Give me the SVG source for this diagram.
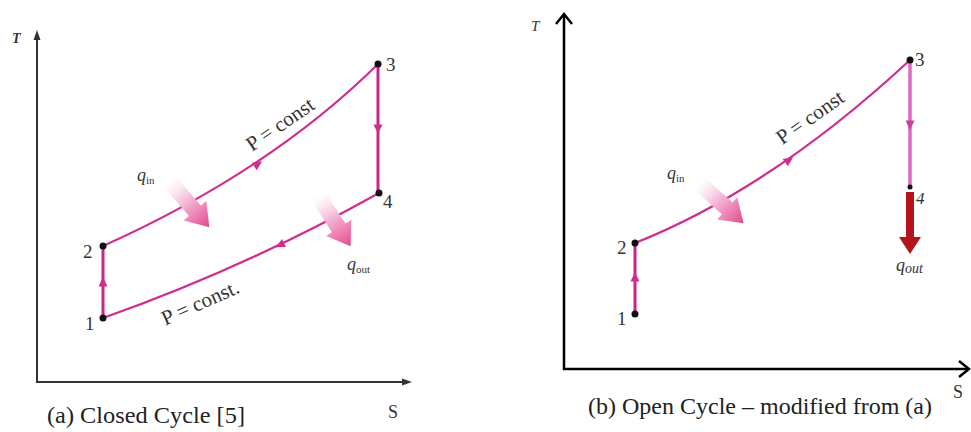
<svg xmlns="http://www.w3.org/2000/svg" width="971" height="432" viewBox="0 0 971 432">
  <defs>
    <style>
      .lbl { font-family: "Liberation Serif", "Times New Roman", serif; fill: #333; }
      .num { font-size: 19px; }
      .cap { font-size: 23px; fill: #222; }
      .pc { font-size: 21px; fill: #333; }
      .proc { fill: none; stroke: #d02e8e; stroke-width: 2.2; }
      .vert { fill: none; stroke: #c9268a; stroke-width: 3; }
      .pt { fill: #111; }
      .ah { fill: #d02e8e; }
    </style>
    <linearGradient id="heatGrad" x1="0" y1="0" x2="1" y2="0">
      <stop offset="0" stop-color="#ffffff" stop-opacity="0.6"/>
      <stop offset="0.45" stop-color="#f4b3d2"/>
      <stop offset="1" stop-color="#e4488f"/>
    </linearGradient>
    <path id="heat" d="M0,-8 L38,-8 L38,-15 L60,0 L38,15 L38,8 L0,8 Z" fill="url(#heatGrad)"/>
    <path id="tri" d="M5,0 L-4.5,-4.5 L-4.5,4.5 Z"/>
  </defs>

  <!-- Panel (a) axes -->
  <g id="axes-a" stroke="#333" stroke-width="2" fill="none">
    <line x1="37" y1="382" x2="37" y2="38"/>
    <line x1="36" y1="382" x2="404" y2="382"/>
    <polygon points="37,30 33.5,40 40.5,40" fill="#333" stroke="none"/>
    <polygon points="412,382 402,378.5 402,385.5" fill="#333" stroke="none"/>
  </g>
  <text class="lbl" x="12" y="43" font-size="14" font-style="italic" font-weight="bold" fill="#555">T</text>
  <text class="lbl" x="388" y="418" font-size="18">S</text>

  <!-- Panel (b) axes -->
  <g id="axes-b" stroke="#000" stroke-width="2.5" fill="none">
    <line x1="564" y1="370" x2="564" y2="15"/>
    <line x1="563" y1="369" x2="968" y2="369"/>
    <polyline points="556,24 564,14 572,24"/>
    <polyline points="959,361 969,369 959,377"/>
  </g>
  <text class="lbl" x="531" y="31" font-size="15" font-style="italic">T</text>
  <text class="lbl" x="953" y="398" font-size="18">S</text>

  <!-- Connectors (processes) -->
  <g id="connectors">
    <!-- (a) -->
    <path class="vert" d="M103,318 L103,246"/>
    <path class="proc" d="M103,246 Q270,171 378,64"/>
    <path class="vert" d="M378,64 L378,193"/>
    <path class="proc" d="M379,193 Q245,268 103,318"/>
    <use href="#tri" class="ah" transform="translate(103,282) rotate(-90)"/>
    <use href="#tri" class="ah" transform="translate(258,164) rotate(-33.5)"/>
    <use href="#tri" class="ah" transform="translate(378,129) rotate(90)"/>
    <use href="#tri" class="ah" transform="translate(280,245) rotate(154.4)"/>
    <!-- (b) -->
    <path class="vert" d="M635,314 L635,243"/>
    <path class="proc" d="M635,243 Q771,189 910,60"/>
    <path fill="none" stroke="#e067c4" stroke-width="3.5" d="M910,60 L910,187"/>
    <use href="#tri" class="ah" transform="translate(635,277) rotate(-90)"/>
    <use href="#tri" class="ah" transform="translate(789,160) rotate(-35)"/>
    <use href="#tri" fill="#d43aa6" transform="translate(910,125) rotate(90)"/>
    <!-- q_out red arrow (b) -->
    <path d="M906,192 L914,192 L914,237 L921,237 L910,254 L899,237 L906,237 Z" fill="#b3141b"/>
  </g>

  <!-- Heat arrows -->
  <g id="heat-arrows">
    <use href="#heat" transform="translate(170,182) rotate(49)"/>
    <use href="#heat" transform="translate(318,196) rotate(57)"/>
    <use href="#heat" transform="translate(699,183) rotate(42)"/>
  </g>

  <!-- Nodes (a) -->
  <g id="a-1"><circle class="pt" cx="103" cy="318" r="3.5"/><text class="lbl num" x="85" y="330">1</text></g>
  <g id="a-2"><circle class="pt" cx="103" cy="246" r="3.5"/><text class="lbl num" x="83" y="258">2</text></g>
  <g id="a-3"><circle class="pt" cx="378" cy="64" r="3.5"/><text class="lbl num" x="386" y="71">3</text></g>
  <g id="a-4"><circle class="pt" cx="379" cy="193" r="3.5"/><text class="lbl num" x="383" y="208">4</text></g>

  <!-- Nodes (b) -->
  <g id="b-1"><circle class="pt" cx="635" cy="314" r="3.5"/><text class="lbl num" x="617" y="325">1</text></g>
  <g id="b-2"><circle class="pt" cx="635" cy="243" r="3.5"/><text class="lbl num" x="617" y="254">2</text></g>
  <g id="b-3"><circle class="pt" cx="910" cy="60" r="3.5"/><text class="lbl num" x="915" y="66">3</text></g>
  <g id="b-4"><circle class="pt" cx="910" cy="187" r="2.5"/><text class="lbl" x="916" y="204" font-size="17" font-style="italic">4</text></g>

  <!-- Process labels -->
  <text class="lbl pc" transform="translate(284,130) rotate(-34.6)" text-anchor="middle">P = const</text>
  <text class="lbl pc" transform="translate(203,309) rotate(-24)" text-anchor="middle">P = const.</text>
  <text class="lbl pc" transform="translate(814,123) rotate(-35)" text-anchor="middle">P = const</text>

  <!-- Heat labels -->
  <text class="lbl" x="137" y="181" font-size="18" font-style="italic" fill="#555">q<tspan font-size="11" font-style="normal" dy="3">in</tspan></text>
  <text class="lbl" x="347" y="270" font-size="18" font-style="italic" fill="#555">q<tspan font-size="11" font-style="normal" dy="3">out</tspan></text>
  <text class="lbl" x="667" y="179" font-size="18" font-style="italic" fill="#555">q<tspan font-size="11" font-style="normal" dy="3">in</tspan></text>
  <text class="lbl" x="896" y="271" font-size="18" font-style="italic" fill="#444">q<tspan font-size="14" dy="2">out</tspan></text>

  <!-- Captions -->
  <text class="lbl cap" x="47" y="423" textLength="198" lengthAdjust="spacingAndGlyphs">(a)  Closed Cycle [5]</text>
  <text class="lbl cap" x="588" y="414" textLength="344" lengthAdjust="spacingAndGlyphs">(b)  Open Cycle – modified from (a)</text>
</svg>
